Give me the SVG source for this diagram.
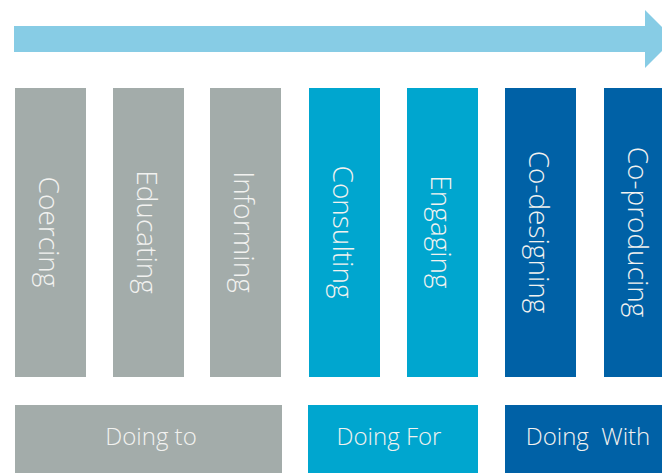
<svg xmlns="http://www.w3.org/2000/svg" width="662" height="473" viewBox="0 0 662 473">
  <style>
    .gray { fill: #A3ACAA; }
    .light { fill: #00A6CF; }
    .dark { fill: #0061A6; }
    .stage { font-family: "Open Sans", "Noto Sans", sans-serif; font-weight: 300; font-size: 28px; fill: #F2F2F0; text-anchor: middle; }
    .group { font-family: "Open Sans", "Noto Sans", sans-serif; font-weight: 300; font-size: 24px; fill: #F2F2F0; text-anchor: middle; }
  </style>

  <!-- progression arrow -->
  <g id="connectors">
    <polygon points="14,26 645,26 645,10 674,39 645,68 645,52 14,52" fill="#87CCE5"/>
  </g>

  <!-- stage columns -->
  <g id="coercing">
    <rect class="gray" x="15" y="88" width="71" height="289"/>
    <text class="stage" transform="translate(39,232) rotate(90)">Coercing</text>
  </g>
  <g id="educating">
    <rect class="gray" x="113" y="88" width="71" height="289"/>
    <text class="stage" transform="translate(137,232) rotate(90)">Educating</text>
  </g>
  <g id="informing">
    <rect class="gray" x="210" y="88" width="71" height="289"/>
    <text class="stage" transform="translate(234,232) rotate(90)">Informing</text>
  </g>
  <g id="consulting">
    <rect class="light" x="309" y="88" width="71" height="289"/>
    <text class="stage" transform="translate(333,232) rotate(90)">Consulting</text>
  </g>
  <g id="engaging">
    <rect class="light" x="407" y="88" width="71" height="289"/>
    <text class="stage" transform="translate(431,232) rotate(90)">Engaging</text>
  </g>
  <g id="co-designing">
    <rect class="dark" x="505" y="88" width="71" height="289"/>
    <text class="stage" transform="translate(529,232) rotate(90)">Co-designing</text>
  </g>
  <g id="co-producing">
    <rect class="dark" x="604" y="88" width="71" height="289"/>
    <text class="stage" transform="translate(628,232) rotate(90)">Co-producing</text>
  </g>

  <!-- grouping bands -->
  <g id="doing-to">
    <rect class="gray" x="15" y="405" width="267" height="80"/>
    <text class="group" x="151" y="445">Doing to</text>
  </g>
  <g id="doing-for">
    <rect class="light" x="308" y="405" width="170" height="80"/>
    <text class="group" x="389" y="445">Doing For</text>
  </g>
  <g id="doing-with">
    <rect class="dark" x="505" y="405" width="170" height="80"/>
    <text class="group" x="588" y="445" xml:space="preserve">Doing  With</text>
  </g>
</svg>
